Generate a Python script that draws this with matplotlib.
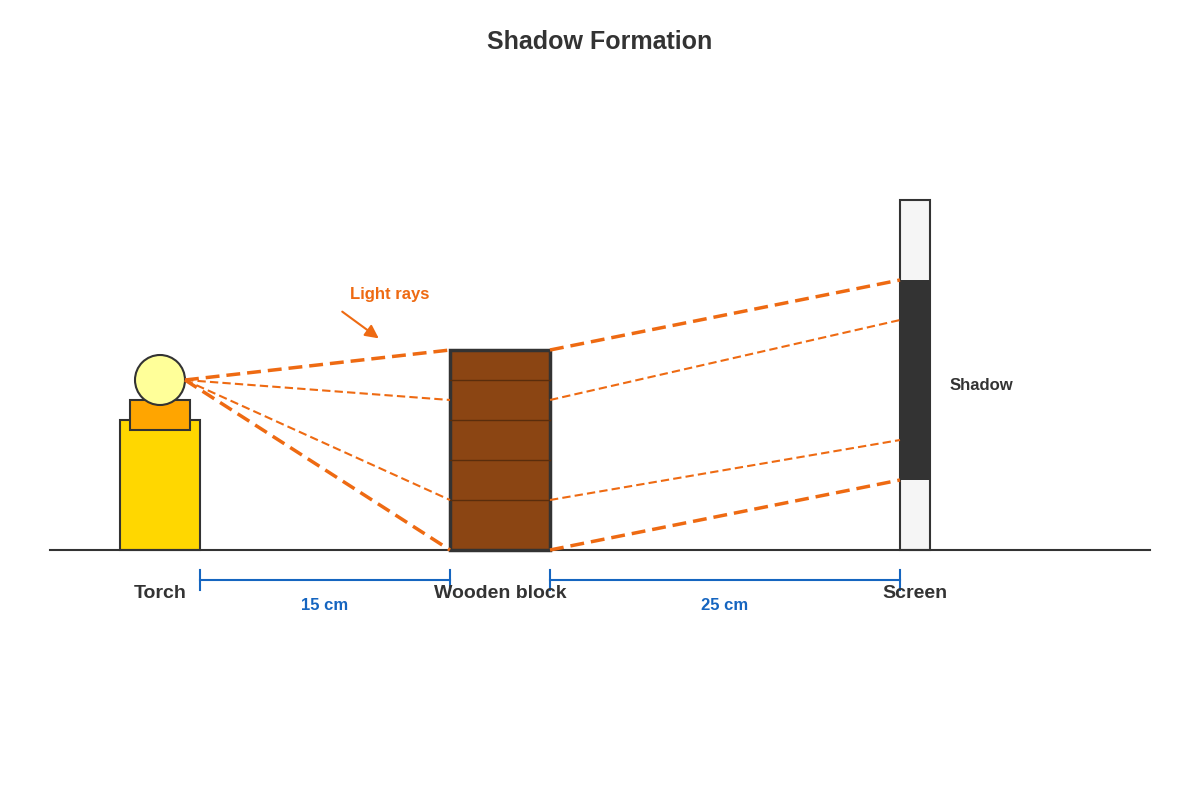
import matplotlib
matplotlib.use("Agg")
import matplotlib.pyplot as plt
from matplotlib.patches import Rectangle, Circle

plt.rcParams['font.family'] = ['Liberation Sans', 'DejaVu Sans']

labels = ["Torch", "Wooden block", "Screen"]
label_x = [160, 500, 915]
distances = ["15 cm", "25 cm"]
dist_spans = [(200, 450), (550, 900)]
src = (185, 380)
block_pts = [350, 400, 500, 550]       # ray hit points on block face
screen_pts = [280, 320, 440, 480]      # ray endpoints on screen
ray_widths = [2.5, 1.5, 1.5, 2.5]

fig = plt.figure(figsize=(12, 8), dpi=100)
ax = fig.add_axes([0, 0, 1, 1])
ax.set_xlim(0, 1200); ax.set_ylim(800, 0); ax.axis('off')

orange = '#EE6A12'; blue = '#1565C0'; dark = '#333333'

ax.plot([50, 1150], [550, 550], color=dark, lw=1.5)
ax.add_patch(Rectangle((120, 420), 80, 130, fc='#FFD700', ec=dark, lw=1.5))
ax.add_patch(Rectangle((130, 400), 60, 30, fc='#FFA500', ec=dark, lw=1.5))
ax.add_patch(Circle((160, 380), 25, fc='#FFFF99', ec=dark, lw=1.5, zorder=3))

ax.add_patch(Rectangle((450, 350), 100, 200, fc='#8B4513', ec=dark, lw=2.5, zorder=2))
for y in [380, 420, 460, 500]:
    ax.plot([450, 550], [y, y], color='#5a2d0c', lw=1, zorder=3)

ax.add_patch(Rectangle((900, 200), 30, 350, fc='#f5f5f5', ec=dark, lw=1.5))
ax.add_patch(Rectangle((900, 280), 30, 200, fc=dark, ec='none', zorder=2))

for b, s, w in zip(block_pts, screen_pts, ray_widths):
    ax.plot([src[0], 450], [src[1], b], color=orange, lw=w, ls=(0, (4, 2)), zorder=4)
    ax.plot([550, 900], [b, s], color=orange, lw=w, ls=(0, (4, 2)), zorder=4)

ax.annotate('', xy=(381, 340), xytext=(340, 310),
            arrowprops=dict(arrowstyle='-|>', color=orange, lw=1.5, mutation_scale=20))
ax.text(350, 295, 'Light rays', color=orange, fontsize=12, fontweight='bold', va='center')
ax.text(950, 385, 'Shadow', color=dark, fontsize=12, fontweight='bold', va='center')

for t, x in zip(labels, label_x):
    ax.text(x, 594, t, color=dark, fontsize=14, fontweight='bold', ha='center', va='center')
for t, (a, b) in zip(distances, dist_spans):
    ax.plot([a, b], [580, 580], color=blue, lw=1.5)
    ax.plot([a, a], [570, 590], color=blue, lw=1.5)
    ax.plot([b, b], [570, 590], color=blue, lw=1.5)
    ax.text((a + b) / 2, 605, t, color=blue, fontsize=12, fontweight='bold', ha='center', va='center')

ax.text(600, 42, 'Shadow Formation', color=dark, fontsize=18, fontweight='bold', ha='center', va='center')
fig.savefig('out.png', dpi=100)
